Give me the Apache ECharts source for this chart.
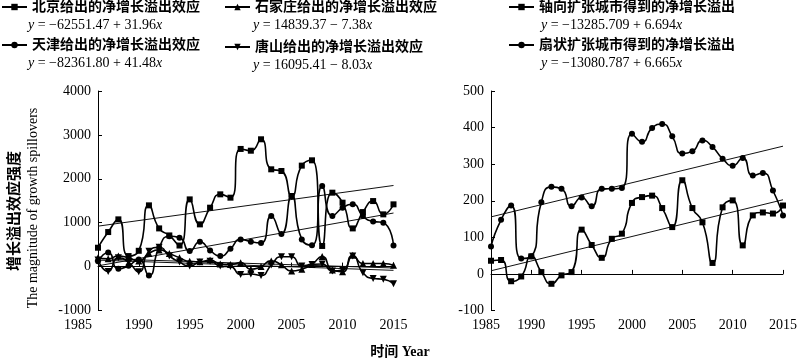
<!DOCTYPE html>
<html><head><meta charset="utf-8">
<script src="https://cdn.jsdelivr.net/npm/echarts@6/dist/echarts.min.js"></script>
<style>html,body{margin:0;padding:0;background:#fff}#c{width:800px;height:362px}</style>
</head><body><div id="c"></div>
<script>
const years = [1986,1987,1988,1989,1990,1991,1992,1993,1994,1995,1996,1997,1998,1999,2000,2001,2002,2003,2004,2005,2006,2007,2008,2009,2010,2011,2012,2013,2014,2015];
const beijing = [430,787,1076,240,360,1395,870,710,480,1531,962,1342,1646,1570,2680,2640,2900,2216,2178,1608,2300,2421,470,1684,1456,870,1242,1493,1190,1418];
const tianjin = [120,320,-50,20,160,-200,431,690,660,354,567,369,240,408,620,567,540,1151,742,1608,620,485,1835,1151,1342,1418,1151,1030,1000,480];
const shijiazhuang = [200,180,240,200,130,300,380,300,200,120,110,150,60,50,90,-60,0,130,40,-100,-60,50,230,-80,-120,260,70,70,70,30];
const tangshan = [150,-110,200,100,-120,350,440,240,103,11,103,120,11,0,-178,-170,-200,34,225,225,11,50,60,-100,-80,240,-140,-270,-290,-390];
const axial = [36,38,-20,-7,48,5,-27,-4,5,121,79,44,96,110,194,210,214,180,128,256,180,141,30,182,201,78,160,168,165,187];
const fan = [75,148,187,42,48,196,238,233,185,209,185,233,233,235,383,361,399,410,376,329,335,365,347,315,296,317,269,276,228,160];

// regression coefficients [intercept, slope] as printed in the legend
const bjTrend = [-62551.47, 31.96];
const tjTrend = [-82361.80, 41.48];
const sjzTrend = [14839.37, -7.38];
const tsTrend = [16095.41, -8.03];
const axTrend = [-13285.709, 6.694];
const fanTrend = [-13080.787, 6.665];

const names = ['北京给出的净增长溢出效应','天津给出的净增长溢出效应','石家庄给出的净增长溢出效应','唐山给出的净增长溢出效应','轴向扩张城市得到的净增长溢出','扇状扩张城市得到的净增长溢出'];
const equations = ['{i|y} = −62551.47 + 31.96{i|x}','{i|y} = −82361.80 + 41.48{i|x}','{i|y} = 14839.37 − 7.38{i|x}','{i|y} = 16095.41 − 8.03{i|x}','{i|y} = −13285.709 + 6.694{i|x}','{i|y} = −13080.787 + 6.665{i|x}'];
const xTickValues = [1986,1990,1995,2000,2005,2010,2015];
const xTickLabels = ['1985','1990','1995','2000','2005','2010','2015'];
const leftYTicks = [-1000, 4000, 1000];
const rightYTicks = [-100, 500, 100];

const FONT = "'Liberation Serif', 'Noto Sans CJK SC', serif";
const chart = echarts.init(document.getElementById('c'));

function pairs(vals){ return years.map((y,i)=>[y, vals[i]]); }
function trend(c){ const a=years[0], b=years[years.length-1]; return [[a, c[0]+c[1]*a],[b, c[0]+c[1]*b]]; }
const invTri = 'path://M0,0 L10,0 L5,9 Z';

function dataSeries(name, vals, sym, idx, size){
  return {type:'line', name, data:pairs(vals), xAxisIndex:idx, yAxisIndex:idx, smooth:0.6,
    symbol:sym, symbolSize:size||6, showSymbol:true,
    lineStyle:{color:'#000', width:1.6}, itemStyle:{color:'#000', borderWidth:0}, z:3};
}
function trendSeries(c, idx){
  return {type:'line', data:trend(c), xAxisIndex:idx, yAxisIndex:idx, symbol:'none', silent:true,
    lineStyle:{color:'#111', width:1}, z:2};
}
function xAxis(idx, shift){
  return {type:'value', gridIndex:idx, min:years[0], max:years[years.length-1],
    axisLine:{show:true, lineStyle:{color:'#000', width:1}},
    axisTick:{show:true, inside:true, length:4, lineStyle:{color:'#000'}, customValues:xTickValues.slice(1)},
    axisLabel:{color:'#000', fontFamily:FONT, fontSize:14, margin:8, customValues:xTickValues,
      formatter:(v)=>{ const k=xTickValues.indexOf(v); const t = k>=0 ? xTickLabels[k] : String(v); return k===0 ? '{s|'+t+'}' : t; },
      rich:{s:{fontFamily:FONT, fontSize:14, color:'#000', padding:[0,shift,0,0]}}},
    splitLine:{show:false}};
}
function yAxis(idx, t){
  return {type:'value', gridIndex:idx, min:t[0], max:t[1], interval:t[2],
    axisLine:{show:true, lineStyle:{color:'#000', width:1}},
    axisTick:{show:true, inside:true, length:4, lineStyle:{color:'#000'}},
    axisLabel:{color:'#000', fontFamily:FONT, fontSize:14, margin:7, formatter:(v)=>String(v)},
    splitLine:{show:false}};
}
function legend(name, left, top){
  return {data:[name], left, top, itemWidth:25, itemHeight:8, padding:0, selectedMode:false,
    textStyle:{color:'#000', fontFamily:FONT, fontSize:14, fontWeight:'bold'}};
}
function eqText(k, x, y){
  return {type:'text', x, y, style:{text:equations[k], fill:'#000', fontFamily:FONT, fontSize:14, verticalAlign:'middle',
    rich:{i:{fontStyle:'italic', fontFamily:FONT, fontSize:14, fill:'#000'}}}};
}

chart.setOption({
  animation:false,
  backgroundColor:'#fff',
  grid:[{left:98, top:91, width:295.5, height:219.5}, {left:491, top:91, width:296, height:219.5}],
  xAxis:[xAxis(0, 40), xAxis(1, 10)],
  yAxis:[yAxis(0, leftYTicks), yAxis(1, rightYTicks)],
  legend:[legend(names[0], 1, 0), legend(names[1], 1, 38), legend(names[2], 224, 0), legend(names[3], 224, 40), legend(names[4], 508, 0), legend(names[5], 508, 38)],
  series:[
    dataSeries(names[0], beijing, 'rect', 0, 6),
    dataSeries(names[1], tianjin, 'circle', 0, 6),
    dataSeries(names[2], shijiazhuang, 'triangle', 0, 7),
    dataSeries(names[3], tangshan, invTri, 0, 7),
    trendSeries(bjTrend, 0), trendSeries(tjTrend, 0), trendSeries(sjzTrend, 0), trendSeries(tsTrend, 0),
    dataSeries(names[4], axial, 'rect', 1, 6),
    dataSeries(names[5], fan, 'circle', 1, 6),
    trendSeries(axTrend, 1), trendSeries(fanTrend, 1)
  ],
  graphic:[
    eqText(0, 28, 25), eqText(1, 28, 63), eqText(2, 253, 25), eqText(3, 253, 65), eqText(4, 541, 25), eqText(5, 541, 63),
    {type:'text', x:15, y:211, rotation:Math.PI/2, style:{text:'增长溢出效应强度', fill:'#000', fontFamily:FONT, fontSize:15, fontWeight:'bold', align:'center', verticalAlign:'middle'}},
    {type:'text', x:33, y:208, rotation:Math.PI/2, style:{text:'The magnitude of growth spillovers', fill:'#000', fontFamily:FONT, fontSize:14, align:'center', verticalAlign:'middle'}},
    {type:'text', x:400, y:352, style:{text:'时间 Year', fill:'#000', fontFamily:FONT, fontSize:14, fontWeight:'bold', align:'center', verticalAlign:'middle'}}
  ]
});
</script></body></html>
